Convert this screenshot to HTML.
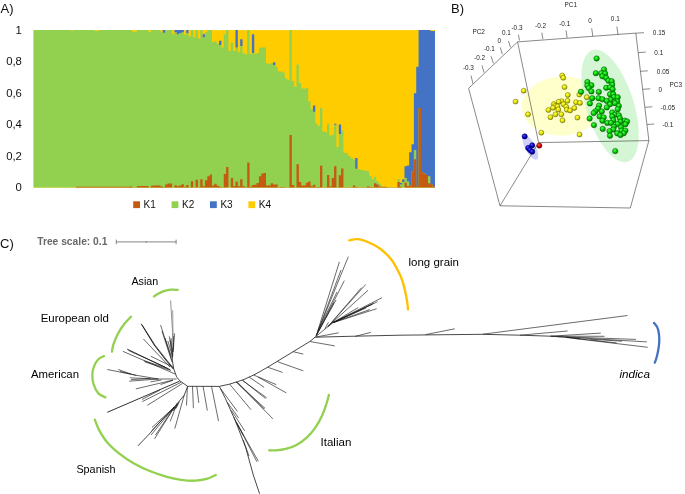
<!DOCTYPE html><html><head><meta charset="utf-8"><title>Figure</title><style>html,body{margin:0;padding:0;background:#fff}svg{display:block}text{font-family:"Liberation Sans",sans-serif}</style></head><body>
<svg width="685" height="494" viewBox="0 0 685 494">
<rect width="685" height="494" fill="#fff"/>
<g id="chart">
<rect x="33.60" y="30.10" width="401.40" height="157.50" fill="#FFCC00"/>
<path d="M33.60,187.60 L33.60,30.10 L35.95,30.10 L35.95,30.10 L38.29,30.10 L38.29,30.10 L40.64,30.10 L40.64,30.10 L42.99,30.10 L42.99,30.10 L45.34,30.10 L45.34,30.10 L47.68,30.10 L47.68,30.10 L50.03,30.10 L50.03,30.10 L52.38,30.10 L52.38,30.10 L54.73,30.10 L54.73,30.10 L57.07,30.10 L57.07,30.10 L59.42,30.10 L59.42,30.10 L61.77,30.10 L61.77,30.10 L64.12,30.10 L64.12,30.10 L66.46,30.10 L66.46,30.10 L68.81,30.10 L68.81,30.10 L71.16,30.10 L71.16,30.73 L73.51,30.73 L73.51,30.10 L75.85,30.10 L75.85,30.10 L78.20,30.10 L78.20,30.10 L80.55,30.10 L80.55,30.10 L82.89,30.10 L82.89,30.10 L85.24,30.10 L85.24,30.10 L87.59,30.10 L87.59,30.10 L89.94,30.10 L89.94,30.10 L92.28,30.10 L92.28,30.10 L94.63,30.10 L94.63,30.89 L96.98,30.89 L96.98,30.89 L99.33,30.89 L99.33,30.10 L101.67,30.10 L101.67,30.10 L104.02,30.10 L104.02,30.10 L106.37,30.10 L106.37,30.10 L108.72,30.10 L108.72,30.10 L111.06,30.10 L111.06,30.10 L113.41,30.10 L113.41,30.10 L115.76,30.10 L115.76,30.10 L118.11,30.10 L118.11,30.10 L120.45,30.10 L120.45,30.10 L122.80,30.10 L122.80,30.10 L125.15,30.10 L125.15,30.10 L127.49,30.10 L127.49,30.10 L129.84,30.10 L129.84,30.10 L132.19,30.10 L132.19,31.67 L134.54,31.67 L134.54,31.67 L136.88,31.67 L136.88,30.10 L139.23,30.10 L139.23,30.10 L141.58,30.10 L141.58,30.10 L143.93,30.10 L143.93,30.10 L146.27,30.10 L146.27,30.10 L148.62,30.10 L148.62,32.15 L150.97,32.15 L150.97,30.10 L153.32,30.10 L153.32,30.10 L155.66,30.10 L155.66,30.10 L158.01,30.10 L158.01,30.10 L160.36,30.10 L160.36,31.83 L162.71,31.83 L162.71,32.78 L165.05,32.78 L165.05,30.10 L167.40,30.10 L167.40,30.10 L169.75,30.10 L169.75,30.10 L172.09,30.10 L172.09,34.19 L174.44,34.19 L174.44,32.31 L176.79,32.31 L176.79,34.19 L179.14,34.19 L179.14,32.94 L181.48,32.94 L181.48,32.15 L183.83,32.15 L183.83,34.82 L186.18,34.82 L186.18,33.09 L188.53,33.09 L188.53,36.24 L190.87,36.24 L190.87,30.10 L193.22,30.10 L193.22,37.34 L195.57,37.34 L195.57,30.10 L197.92,30.10 L197.92,38.60 L200.26,38.60 L200.26,30.10 L202.61,30.10 L202.61,37.34 L204.96,37.34 L204.96,32.15 L207.31,32.15 L207.31,30.10 L209.65,30.10 L209.65,30.10 L212.00,30.10 L212.00,42.07 L214.35,42.07 L214.35,41.28 L216.69,41.28 L216.69,43.64 L219.04,43.64 L219.04,44.91 L221.39,44.91 L221.39,47.42 L223.74,47.42 L223.74,34.19 L226.08,34.19 L226.08,30.10 L228.43,30.10 L228.43,51.05 L230.78,51.05 L230.78,42.38 L233.13,42.38 L233.13,51.05 L235.47,51.05 L235.47,47.42 L237.82,47.42 L237.82,52.31 L240.17,52.31 L240.17,46.01 L242.52,46.01 L242.52,53.25 L244.86,53.25 L244.86,54.35 L247.21,54.35 L247.21,30.10 L249.56,30.10 L249.56,54.35 L251.91,54.35 L251.91,53.09 L254.25,53.09 L254.25,54.04 L256.60,54.04 L256.60,53.09 L258.95,53.09 L258.95,47.58 L261.29,47.58 L261.29,47.58 L263.64,47.58 L263.64,47.58 L265.99,47.58 L265.99,63.17 L268.34,63.17 L268.34,63.80 L270.68,63.80 L270.68,63.33 L273.03,63.33 L273.03,65.22 L275.38,65.22 L275.38,66.80 L277.73,66.80 L277.73,71.36 L280.07,71.36 L280.07,71.52 L282.42,71.52 L282.42,72.47 L284.77,72.47 L284.77,78.61 L287.12,78.61 L287.12,79.79 L289.46,79.79 L289.46,30.10 L291.81,30.10 L291.81,80.97 L294.16,80.97 L294.16,86.80 L296.51,86.80 L296.51,64.51 L298.85,64.51 L298.85,83.02 L301.20,83.02 L301.20,88.38 L303.55,88.38 L303.55,88.85 L305.89,88.85 L305.89,87.90 L308.24,87.90 L308.24,101.29 L310.59,101.29 L310.59,108.85 L312.94,108.85 L312.94,111.84 L315.28,111.84 L315.28,123.50 L317.63,123.50 L317.63,125.86 L319.98,125.86 L319.98,107.90 L322.33,107.90 L322.33,131.22 L324.67,131.22 L324.67,132.16 L327.02,132.16 L327.02,123.81 L329.37,123.81 L329.37,135.62 L331.72,135.62 L331.72,134.84 L334.06,134.84 L334.06,124.76 L336.41,124.76 L336.41,146.89 L338.76,146.89 L338.76,134.05 L341.11,134.05 L341.11,130.43 L343.45,130.43 L343.45,152.79 L345.80,152.79 L345.80,153.26 L348.15,153.26 L348.15,155.94 L350.49,155.94 L350.49,157.93 L352.84,157.93 L352.84,159.41 L355.19,159.41 L355.19,168.79 L357.54,168.79 L357.54,169.17 L359.88,169.17 L359.88,169.64 L362.23,169.64 L362.23,170.37 L364.58,170.37 L364.58,170.84 L366.93,170.84 L366.93,171.22 L369.27,171.22 L369.27,175.94 L371.62,175.94 L371.62,179.14 L373.97,179.14 L373.97,176.80 L376.32,176.80 L376.32,180.91 L378.66,180.91 L378.66,183.82 L381.01,183.82 L381.01,186.66 L383.36,186.66 L383.36,186.81 L385.71,186.81 L385.71,186.97 L388.05,186.97 L388.05,187.13 L390.40,187.13 L390.40,187.28 L392.75,187.28 L392.75,187.28 L395.09,187.28 L395.09,187.28 L397.44,187.28 L397.44,179.14 L399.79,179.14 L399.79,184.45 L402.14,184.45 L402.14,182.09 L404.48,182.09 L404.48,177.99 L406.83,177.99 L406.83,181.46 L409.18,181.46 L409.18,185.60 L411.53,185.60 L411.53,171.53 L413.87,171.53 L413.87,150.12 L416.22,150.12 L416.22,186.18 L418.57,186.18 L418.57,108.06 L420.92,108.06 L420.92,172.16 L423.26,172.16 L423.26,173.27 L425.61,173.27 L425.61,175.00 L427.96,175.00 L427.96,176.26 L430.31,176.26 L430.31,184.20 L432.65,184.20 L432.65,186.81 L435.00,186.81 L435.00,187.60Z" fill="#92D050"/>
<path d="M162.71,30.10 L165.05,30.10 L165.05,32.78 L162.71,32.78Z M174.44,30.10 L176.79,30.10 L176.79,30.10 L179.14,30.10 L179.14,30.10 L181.48,30.10 L181.48,30.10 L183.83,30.10 L183.83,32.15 L181.48,32.15 L181.48,32.94 L179.14,32.94 L179.14,34.19 L176.79,34.19 L176.79,32.31 L174.44,32.31Z M186.18,30.10 L188.53,30.10 L188.53,33.09 L186.18,33.09Z M202.61,34.19 L204.96,34.19 L204.96,37.34 L202.61,37.34Z M219.04,40.81 L221.39,40.81 L221.39,44.91 L219.04,44.91Z M235.47,30.10 L237.82,30.10 L237.82,47.42 L235.47,47.42Z M240.17,39.24 L242.52,39.24 L242.52,46.01 L240.17,46.01Z M251.91,34.19 L254.25,34.19 L254.25,53.09 L251.91,53.09Z M273.03,62.23 L275.38,62.23 L275.38,65.22 L273.03,65.22Z M312.94,105.38 L315.28,105.38 L315.28,111.84 L312.94,111.84Z M334.06,123.65 L336.41,123.65 L336.41,124.76 L334.06,124.76Z M338.76,124.60 L341.11,124.60 L341.11,134.05 L338.76,134.05Z M355.19,157.93 L357.54,157.93 L357.54,168.79 L355.19,168.79Z M399.79,182.72 L402.14,182.72 L402.14,179.14 L404.48,179.14 L404.48,166.23 L406.83,166.23 L406.83,165.39 L409.18,165.39 L409.18,152.16 L411.53,152.16 L411.53,144.29 L413.87,144.29 L413.87,93.26 L416.22,93.26 L416.22,66.64 L418.57,66.64 L418.57,30.10 L420.92,30.10 L420.92,30.10 L423.26,30.10 L423.26,30.10 L425.61,30.10 L425.61,30.10 L427.96,30.10 L427.96,30.10 L430.31,30.10 L430.31,30.89 L432.65,30.89 L432.65,30.89 L435.00,30.89 L435.00,186.81 L432.65,186.81 L432.65,184.20 L430.31,184.20 L430.31,176.26 L427.96,176.26 L427.96,175.00 L425.61,175.00 L425.61,173.27 L423.26,173.27 L423.26,172.16 L420.92,172.16 L420.92,108.06 L418.57,108.06 L418.57,186.18 L416.22,186.18 L416.22,150.12 L413.87,150.12 L413.87,171.53 L411.53,171.53 L411.53,185.60 L409.18,185.60 L409.18,181.46 L406.83,181.46 L406.83,177.99 L404.48,177.99 L404.48,182.09 L402.14,182.09 L402.14,184.45 L399.79,184.45Z" fill="#4472C4"/>
<path d="M33.60,187.60 L33.60,187.44 L35.95,187.44 L35.95,187.44 L38.29,187.44 L38.29,187.44 L40.64,187.44 L40.64,187.44 L42.99,187.44 L42.99,187.44 L45.34,187.44 L45.34,187.44 L47.68,187.44 L47.68,187.44 L50.03,187.44 L50.03,187.44 L52.38,187.44 L52.38,187.44 L54.73,187.44 L54.73,187.44 L57.07,187.44 L57.07,187.44 L59.42,187.44 L59.42,187.44 L61.77,187.44 L61.77,187.44 L64.12,187.44 L64.12,187.44 L66.46,187.44 L66.46,187.44 L68.81,187.44 L68.81,187.44 L71.16,187.44 L71.16,187.44 L73.51,187.44 L73.51,187.44 L75.85,187.44 L75.85,186.81 L78.20,186.81 L78.20,186.81 L80.55,186.81 L80.55,186.81 L82.89,186.81 L82.89,186.81 L85.24,186.81 L85.24,186.81 L87.59,186.81 L87.59,186.81 L89.94,186.81 L89.94,186.81 L92.28,186.81 L92.28,186.81 L94.63,186.81 L94.63,186.81 L96.98,186.81 L96.98,186.81 L99.33,186.81 L99.33,186.81 L101.67,186.81 L101.67,186.81 L104.02,186.81 L104.02,186.81 L106.37,186.81 L106.37,186.81 L108.72,186.81 L108.72,186.81 L111.06,186.81 L111.06,186.81 L113.41,186.81 L113.41,186.81 L115.76,186.81 L115.76,186.81 L118.11,186.81 L118.11,186.81 L120.45,186.81 L120.45,186.81 L122.80,186.81 L122.80,186.81 L125.15,186.81 L125.15,186.81 L127.49,186.81 L127.49,186.81 L129.84,186.81 L129.84,186.42 L132.19,186.42 L132.19,187.13 L134.54,187.13 L134.54,187.13 L136.88,187.13 L136.88,185.96 L139.23,185.96 L139.23,185.96 L141.58,185.96 L141.58,185.96 L143.93,185.96 L143.93,185.96 L146.27,185.96 L146.27,185.96 L148.62,185.96 L148.62,187.13 L150.97,187.13 L150.97,185.87 L153.32,185.87 L153.32,185.39 L155.66,185.39 L155.66,185.39 L158.01,185.39 L158.01,185.39 L160.36,185.39 L160.36,186.34 L162.71,186.34 L162.71,186.97 L165.05,186.97 L165.05,184.45 L167.40,184.45 L167.40,183.50 L169.75,183.50 L169.75,183.50 L172.09,183.50 L172.09,187.36 L174.44,187.36 L174.44,185.24 L176.79,185.24 L176.79,186.34 L179.14,186.34 L179.14,185.39 L181.48,185.39 L181.48,184.20 L183.83,184.20 L183.83,186.81 L186.18,186.81 L186.18,185.02 L188.53,185.02 L188.53,187.36 L190.87,187.36 L190.87,181.30 L193.22,181.30 L193.22,187.36 L195.57,187.36 L195.57,179.72 L197.92,179.72 L197.92,187.36 L200.26,187.36 L200.26,179.14 L202.61,179.14 L202.61,186.18 L204.96,186.18 L204.96,180.35 L207.31,180.35 L207.31,176.26 L209.65,176.26 L209.65,174.45 L212.00,174.45 L212.00,185.39 L214.35,185.39 L214.35,183.82 L216.69,183.82 L216.69,185.87 L219.04,185.87 L219.04,186.81 L221.39,186.81 L221.39,187.28 L223.74,187.28 L223.74,173.90 L226.08,173.90 L226.08,167.05 L228.43,167.05 L228.43,187.60 L230.78,187.60 L230.78,177.99 L233.13,177.99 L233.13,186.18 L235.47,186.18 L235.47,181.85 L237.82,181.85 L237.82,186.18 L240.17,186.18 L240.17,179.14 L242.52,179.14 L242.52,186.18 L244.86,186.18 L244.86,186.97 L247.21,186.97 L247.21,162.40 L249.56,162.40 L249.56,186.81 L251.91,186.81 L251.91,185.08 L254.25,185.08 L254.25,184.67 L256.60,184.67 L256.60,183.03 L258.95,183.03 L258.95,176.26 L261.29,176.26 L261.29,173.61 L263.64,173.61 L263.64,172.95 L265.99,172.95 L265.99,185.39 L268.34,185.39 L268.34,185.39 L270.68,185.39 L270.68,183.25 L273.03,183.25 L273.03,184.45 L275.38,184.45 L275.38,184.45 L277.73,184.45 L277.73,187.36 L280.07,187.36 L280.07,186.97 L282.42,186.97 L282.42,186.97 L284.77,186.97 L284.77,187.36 L287.12,187.36 L287.12,187.36 L289.46,187.36 L289.46,135.00 L291.81,135.00 L291.81,185.08 L294.16,185.08 L294.16,187.28 L296.51,187.28 L296.51,164.29 L298.85,164.29 L298.85,182.09 L301.20,182.09 L301.20,185.60 L303.55,185.60 L303.55,185.39 L305.89,185.39 L305.89,182.72 L308.24,182.72 L308.24,181.46 L310.59,181.46 L310.59,186.18 L312.94,186.18 L312.94,184.67 L315.28,184.67 L315.28,186.97 L317.63,186.97 L317.63,186.97 L319.98,186.97 L319.98,165.86 L322.33,165.86 L322.33,187.13 L324.67,187.13 L324.67,187.13 L327.02,187.13 L327.02,175.00 L329.37,175.00 L329.37,186.50 L331.72,186.50 L331.72,177.99 L334.06,177.99 L334.06,166.23 L336.41,166.23 L336.41,187.28 L338.76,187.28 L338.76,175.31 L341.11,175.31 L341.11,168.54 L343.45,168.54 L343.45,187.13 L345.80,187.13 L345.80,187.13 L348.15,187.13 L348.15,187.13 L350.49,187.13 L350.49,187.13 L352.84,187.13 L352.84,185.60 L355.19,185.60 L355.19,186.97 L357.54,186.97 L357.54,187.13 L359.88,187.13 L359.88,187.13 L362.23,187.13 L362.23,187.13 L364.58,187.13 L364.58,187.13 L366.93,187.13 L366.93,186.18 L369.27,186.18 L369.27,186.97 L371.62,186.97 L371.62,186.97 L373.97,186.97 L373.97,183.25 L376.32,183.25 L376.32,184.45 L378.66,184.45 L378.66,186.42 L381.01,186.42 L381.01,186.66 L383.36,186.66 L383.36,186.81 L385.71,186.81 L385.71,186.97 L388.05,186.97 L388.05,187.13 L390.40,187.13 L390.40,187.28 L392.75,187.28 L392.75,187.28 L395.09,187.28 L395.09,187.28 L397.44,187.28 L397.44,182.09 L399.79,182.09 L399.79,186.81 L402.14,186.81 L402.14,187.60 L404.48,187.60 L404.48,182.72 L406.83,182.72 L406.83,186.03 L409.18,186.03 L409.18,185.60 L411.53,185.60 L411.53,171.53 L413.87,171.53 L413.87,159.25 L416.22,159.25 L416.22,186.18 L418.57,186.18 L418.57,108.06 L420.92,108.06 L420.92,172.16 L423.26,172.16 L423.26,173.27 L425.61,173.27 L425.61,175.00 L427.96,175.00 L427.96,183.25 L430.31,183.25 L430.31,184.20 L432.65,184.20 L432.65,186.81 L435.00,186.81 L435.00,187.60Z" fill="#C55A11"/>
</g>
<g font-size="11.3" fill="#111" text-anchor="end">
<text x="21.9" y="33.95">1</text>
<text x="21.9" y="65.45">0,8</text>
<text x="21.9" y="96.95">0,6</text>
<text x="21.9" y="128.45">0,4</text>
<text x="21.9" y="159.95">0,2</text>
<text x="21.9" y="191.45">0</text>
</g>
<g font-size="11.3" fill="#111">
<rect x="133.2" y="201.3" width="6.8" height="6.8" fill="#C55A11"/><text x="143.6" y="208.1" textLength="12.3" lengthAdjust="spacingAndGlyphs">K1</text>
<rect x="171.6" y="201.3" width="6.8" height="6.8" fill="#92D050"/><text x="182.0" y="208.1" textLength="12.3" lengthAdjust="spacingAndGlyphs">K2</text>
<rect x="210.0" y="201.3" width="6.8" height="6.8" fill="#4472C4"/><text x="220.4" y="208.1" textLength="12.3" lengthAdjust="spacingAndGlyphs">K3</text>
<rect x="248.4" y="201.3" width="6.8" height="6.8" fill="#FFCC00"/><text x="258.8" y="208.1" textLength="12.3" lengthAdjust="spacingAndGlyphs">K4</text>
</g>
<g font-size="13" fill="#111"><text x="0.6" y="12.8">A)</text><text x="451" y="12.6">B)</text><text x="0" y="248">C)</text></g>
<defs>
<radialGradient id="gy" cx="0.4" cy="0.35" r="0.65"><stop offset="0" stop-color="#ffff66"/><stop offset="0.55" stop-color="#e6e600"/><stop offset="1" stop-color="#8f8f00"/></radialGradient>
<radialGradient id="gg" cx="0.4" cy="0.35" r="0.65"><stop offset="0" stop-color="#55ff55"/><stop offset="0.55" stop-color="#00d200"/><stop offset="1" stop-color="#006e00"/></radialGradient>
<radialGradient id="gb" cx="0.4" cy="0.35" r="0.65"><stop offset="0" stop-color="#5555ff"/><stop offset="0.55" stop-color="#0000d0"/><stop offset="1" stop-color="#00006a"/></radialGradient>
<radialGradient id="gr" cx="0.4" cy="0.35" r="0.65"><stop offset="0" stop-color="#ff6666"/><stop offset="0.55" stop-color="#e00000"/><stop offset="1" stop-color="#700000"/></radialGradient>
</defs>
<g id="pca">
<ellipse cx="562" cy="106" rx="40.5" ry="29.5" fill="#FFFFCC" transform="rotate(-3 562 106)"/>
<ellipse cx="610.1" cy="105.9" rx="23.8" ry="58.6" fill="#CCF5CC" fill-opacity="0.85" transform="rotate(-17.5 610.1 105.9)"/>
<ellipse cx="530.3" cy="147.4" rx="5.2" ry="13.6" fill="#D0D0FA" transform="rotate(-28 530.3 147.4)"/>
<line x1="517.6" y1="41.9" x2="635.8" y2="33.1" stroke="#3a3a3a" stroke-width="0.60"/>
<line x1="517.6" y1="41.9" x2="468.6" y2="88.3" stroke="#3a3a3a" stroke-width="0.60"/>
<line x1="517.6" y1="41.9" x2="538.6" y2="142.6" stroke="#3a3a3a" stroke-width="0.60"/>
<line x1="635.8" y1="33.1" x2="648.9" y2="140.6" stroke="#3a3a3a" stroke-width="0.60"/>
<line x1="538.6" y1="142.6" x2="648.9" y2="140.6" stroke="#3a3a3a" stroke-width="0.60"/>
<line x1="468.6" y1="88.3" x2="500.0" y2="205.8" stroke="#3a3a3a" stroke-width="0.60"/>
<line x1="500.0" y1="205.8" x2="630.3" y2="208.0" stroke="#3a3a3a" stroke-width="0.60"/>
<line x1="500.0" y1="205.8" x2="538.6" y2="142.6" stroke="#3a3a3a" stroke-width="0.60"/>
<line x1="630.3" y1="208.0" x2="648.9" y2="140.6" stroke="#3a3a3a" stroke-width="0.60"/>
<line x1="519.5" y1="40.5" x2="518.4" y2="34.7" stroke="#3a3a3a" stroke-width="0.60"/>
<line x1="542.9" y1="39.1" x2="541.8" y2="32.7" stroke="#3a3a3a" stroke-width="0.60"/>
<line x1="567.1" y1="37.8" x2="566.0" y2="30.4" stroke="#3a3a3a" stroke-width="0.60"/>
<line x1="592.8" y1="36.2" x2="591.7" y2="28.3" stroke="#3a3a3a" stroke-width="0.60"/>
<line x1="618.0" y1="34.9" x2="616.9" y2="26.5" stroke="#3a3a3a" stroke-width="0.60"/>
<line x1="510.5" y1="47.4" x2="508.5" y2="40.9" stroke="#3a3a3a" stroke-width="0.60"/>
<line x1="502.3" y1="54.2" x2="500.3" y2="47.4" stroke="#3a3a3a" stroke-width="0.60"/>
<line x1="493.5" y1="63.4" x2="491.0" y2="56.2" stroke="#3a3a3a" stroke-width="0.60"/>
<line x1="484.0" y1="72.6" x2="482.0" y2="65.4" stroke="#3a3a3a" stroke-width="0.60"/>
<line x1="473.0" y1="83.8" x2="471.0" y2="75.6" stroke="#3a3a3a" stroke-width="0.60"/>
<line x1="635.8" y1="33.2" x2="644.0" y2="32.7" stroke="#3a3a3a" stroke-width="0.60"/>
<line x1="638.3" y1="52.6" x2="645.8" y2="52.1" stroke="#3a3a3a" stroke-width="0.60"/>
<line x1="640.5" y1="71.3" x2="647.8" y2="70.8" stroke="#3a3a3a" stroke-width="0.60"/>
<line x1="642.8" y1="89.3" x2="650.3" y2="88.8" stroke="#3a3a3a" stroke-width="0.60"/>
<line x1="645.0" y1="107.3" x2="652.2" y2="106.8" stroke="#3a3a3a" stroke-width="0.60"/>
<line x1="647.1" y1="124.5" x2="654.2" y2="124.0" stroke="#3a3a3a" stroke-width="0.60"/>
<g font-size="6.4" fill="#222" text-anchor="middle">
<text x="570.8" y="6.6">PC1</text>
<text x="478.6" y="33.7">PC2</text>
<text x="517.0" y="29.5">-0.3</text>
<text x="540.6" y="27.8">-0.2</text>
<text x="564.7" y="25.5">-0.1</text>
<text x="590.1" y="22.8">0</text>
<text x="615.3" y="20.9">0.1</text>
<text x="506.4" y="35.3">0.1</text>
<text x="499.3" y="42.8">0</text>
<text x="489.4" y="51.1">-0.1</text>
<text x="479.6" y="60.2">-0.2</text>
<text x="468.4" y="69.9">-0.3</text>
<text x="659.1" y="35.4">0.15</text>
<text x="658.8" y="54.8">0.1</text>
<text x="663.1" y="73.8">0.05</text>
<text x="660.4" y="91.6">0</text>
<text x="667.8" y="109.9">-0.05</text>
<text x="667.9" y="126.8">-0.1</text>
<text x="675.8" y="87.0">PC3</text>
</g>
<circle cx="562.2" cy="75.5" r="2.5" fill="url(#gy)" stroke="#6b6b00" stroke-width="0.5"/>
<circle cx="563.2" cy="77.8" r="2.5" fill="url(#gy)" stroke="#6b6b00" stroke-width="0.5"/>
<circle cx="564.5" cy="87.1" r="2.5" fill="url(#gy)" stroke="#6b6b00" stroke-width="0.5"/>
<circle cx="523.7" cy="90.7" r="2.5" fill="url(#gy)" stroke="#6b6b00" stroke-width="0.5"/>
<circle cx="567.8" cy="95.0" r="2.5" fill="url(#gy)" stroke="#6b6b00" stroke-width="0.5"/>
<circle cx="579.3" cy="94.6" r="2.5" fill="url(#gy)" stroke="#6b6b00" stroke-width="0.5"/>
<circle cx="586.8" cy="97.2" r="2.5" fill="url(#gy)" stroke="#6b6b00" stroke-width="0.5"/>
<circle cx="515.5" cy="101.6" r="2.5" fill="url(#gy)" stroke="#6b6b00" stroke-width="0.5"/>
<circle cx="567.5" cy="100.8" r="2.5" fill="url(#gy)" stroke="#6b6b00" stroke-width="0.5"/>
<circle cx="561.6" cy="101.2" r="2.5" fill="url(#gy)" stroke="#6b6b00" stroke-width="0.5"/>
<circle cx="558.7" cy="101.8" r="2.5" fill="url(#gy)" stroke="#6b6b00" stroke-width="0.5"/>
<circle cx="576.0" cy="102.2" r="2.5" fill="url(#gy)" stroke="#6b6b00" stroke-width="0.5"/>
<circle cx="580.0" cy="102.9" r="2.5" fill="url(#gy)" stroke="#6b6b00" stroke-width="0.5"/>
<circle cx="553.9" cy="104.1" r="2.5" fill="url(#gy)" stroke="#6b6b00" stroke-width="0.5"/>
<circle cx="563.5" cy="104.2" r="2.5" fill="url(#gy)" stroke="#6b6b00" stroke-width="0.5"/>
<circle cx="555.0" cy="106.0" r="2.5" fill="url(#gy)" stroke="#6b6b00" stroke-width="0.5"/>
<circle cx="557.4" cy="106.4" r="2.5" fill="url(#gy)" stroke="#6b6b00" stroke-width="0.5"/>
<circle cx="566.2" cy="106.8" r="2.5" fill="url(#gy)" stroke="#6b6b00" stroke-width="0.5"/>
<circle cx="574.3" cy="108.0" r="2.5" fill="url(#gy)" stroke="#6b6b00" stroke-width="0.5"/>
<circle cx="553.0" cy="107.8" r="2.5" fill="url(#gy)" stroke="#6b6b00" stroke-width="0.5"/>
<circle cx="548.4" cy="110.0" r="2.5" fill="url(#gy)" stroke="#6b6b00" stroke-width="0.5"/>
<circle cx="558.3" cy="109.5" r="2.5" fill="url(#gy)" stroke="#6b6b00" stroke-width="0.5"/>
<circle cx="566.8" cy="109.7" r="2.5" fill="url(#gy)" stroke="#6b6b00" stroke-width="0.5"/>
<circle cx="570.1" cy="110.4" r="2.5" fill="url(#gy)" stroke="#6b6b00" stroke-width="0.5"/>
<circle cx="528.0" cy="114.3" r="2.5" fill="url(#gy)" stroke="#6b6b00" stroke-width="0.5"/>
<circle cx="555.4" cy="114.3" r="2.5" fill="url(#gy)" stroke="#6b6b00" stroke-width="0.5"/>
<circle cx="561.3" cy="114.3" r="2.5" fill="url(#gy)" stroke="#6b6b00" stroke-width="0.5"/>
<circle cx="550.4" cy="117.2" r="2.5" fill="url(#gy)" stroke="#6b6b00" stroke-width="0.5"/>
<circle cx="577.4" cy="117.6" r="2.5" fill="url(#gy)" stroke="#6b6b00" stroke-width="0.5"/>
<circle cx="562.5" cy="120.3" r="2.5" fill="url(#gy)" stroke="#6b6b00" stroke-width="0.5"/>
<circle cx="541.3" cy="132.7" r="2.5" fill="url(#gy)" stroke="#6b6b00" stroke-width="0.5"/>
<circle cx="579.5" cy="134.5" r="2.5" fill="url(#gy)" stroke="#6b6b00" stroke-width="0.5"/>
<circle cx="596.6" cy="58.5" r="2.7" fill="url(#gg)" stroke="#005a00" stroke-width="0.5"/>
<circle cx="604.0" cy="69.5" r="2.7" fill="url(#gg)" stroke="#005a00" stroke-width="0.5"/>
<circle cx="595.8" cy="73.2" r="2.7" fill="url(#gg)" stroke="#005a00" stroke-width="0.5"/>
<circle cx="601.3" cy="73.2" r="2.7" fill="url(#gg)" stroke="#005a00" stroke-width="0.5"/>
<circle cx="605.1" cy="73.5" r="2.7" fill="url(#gg)" stroke="#005a00" stroke-width="0.5"/>
<circle cx="602.4" cy="76.3" r="2.7" fill="url(#gg)" stroke="#005a00" stroke-width="0.5"/>
<circle cx="606.2" cy="77.9" r="2.7" fill="url(#gg)" stroke="#005a00" stroke-width="0.5"/>
<circle cx="608.4" cy="80.7" r="2.7" fill="url(#gg)" stroke="#005a00" stroke-width="0.5"/>
<circle cx="611.7" cy="81.2" r="2.7" fill="url(#gg)" stroke="#005a00" stroke-width="0.5"/>
<circle cx="587.4" cy="82.0" r="2.7" fill="url(#gg)" stroke="#005a00" stroke-width="0.5"/>
<circle cx="591.4" cy="85.3" r="2.7" fill="url(#gg)" stroke="#005a00" stroke-width="0.5"/>
<circle cx="587.3" cy="85.6" r="2.7" fill="url(#gg)" stroke="#005a00" stroke-width="0.5"/>
<circle cx="612.2" cy="84.8" r="2.7" fill="url(#gg)" stroke="#005a00" stroke-width="0.5"/>
<circle cx="606.2" cy="87.8" r="2.7" fill="url(#gg)" stroke="#005a00" stroke-width="0.5"/>
<circle cx="610.0" cy="87.4" r="2.7" fill="url(#gg)" stroke="#005a00" stroke-width="0.5"/>
<circle cx="588.7" cy="88.1" r="2.7" fill="url(#gg)" stroke="#005a00" stroke-width="0.5"/>
<circle cx="612.6" cy="89.2" r="2.7" fill="url(#gg)" stroke="#005a00" stroke-width="0.5"/>
<circle cx="591.4" cy="91.4" r="2.7" fill="url(#gg)" stroke="#005a00" stroke-width="0.5"/>
<circle cx="581.0" cy="91.8" r="2.7" fill="url(#gg)" stroke="#005a00" stroke-width="0.5"/>
<circle cx="598.8" cy="91.9" r="2.7" fill="url(#gg)" stroke="#005a00" stroke-width="0.5"/>
<circle cx="610.0" cy="94.3" r="2.7" fill="url(#gg)" stroke="#005a00" stroke-width="0.5"/>
<circle cx="613.3" cy="94.3" r="2.7" fill="url(#gg)" stroke="#005a00" stroke-width="0.5"/>
<circle cx="613.9" cy="97.1" r="2.7" fill="url(#gg)" stroke="#005a00" stroke-width="0.5"/>
<circle cx="617.7" cy="97.3" r="2.7" fill="url(#gg)" stroke="#005a00" stroke-width="0.5"/>
<circle cx="592.2" cy="98.2" r="2.7" fill="url(#gg)" stroke="#005a00" stroke-width="0.5"/>
<circle cx="598.5" cy="98.2" r="2.7" fill="url(#gg)" stroke="#005a00" stroke-width="0.5"/>
<circle cx="602.4" cy="99.3" r="2.7" fill="url(#gg)" stroke="#005a00" stroke-width="0.5"/>
<circle cx="610.6" cy="99.8" r="2.7" fill="url(#gg)" stroke="#005a00" stroke-width="0.5"/>
<circle cx="606.8" cy="100.9" r="2.7" fill="url(#gg)" stroke="#005a00" stroke-width="0.5"/>
<circle cx="617.2" cy="101.5" r="2.7" fill="url(#gg)" stroke="#005a00" stroke-width="0.5"/>
<circle cx="589.9" cy="103.4" r="2.7" fill="url(#gg)" stroke="#005a00" stroke-width="0.5"/>
<circle cx="615.0" cy="103.2" r="2.7" fill="url(#gg)" stroke="#005a00" stroke-width="0.5"/>
<circle cx="610.0" cy="104.3" r="2.7" fill="url(#gg)" stroke="#005a00" stroke-width="0.5"/>
<circle cx="599.1" cy="105.6" r="2.7" fill="url(#gg)" stroke="#005a00" stroke-width="0.5"/>
<circle cx="618.8" cy="105.9" r="2.7" fill="url(#gg)" stroke="#005a00" stroke-width="0.5"/>
<circle cx="606.8" cy="107.4" r="2.7" fill="url(#gg)" stroke="#005a00" stroke-width="0.5"/>
<circle cx="598.0" cy="108.7" r="2.7" fill="url(#gg)" stroke="#005a00" stroke-width="0.5"/>
<circle cx="617.7" cy="109.2" r="2.7" fill="url(#gg)" stroke="#005a00" stroke-width="0.5"/>
<circle cx="595.3" cy="111.4" r="2.7" fill="url(#gg)" stroke="#005a00" stroke-width="0.5"/>
<circle cx="601.8" cy="111.4" r="2.7" fill="url(#gg)" stroke="#005a00" stroke-width="0.5"/>
<circle cx="593.6" cy="113.1" r="2.7" fill="url(#gg)" stroke="#005a00" stroke-width="0.5"/>
<circle cx="612.2" cy="112.5" r="2.7" fill="url(#gg)" stroke="#005a00" stroke-width="0.5"/>
<circle cx="615.0" cy="114.7" r="2.7" fill="url(#gg)" stroke="#005a00" stroke-width="0.5"/>
<circle cx="618.8" cy="115.3" r="2.7" fill="url(#gg)" stroke="#005a00" stroke-width="0.5"/>
<circle cx="599.6" cy="116.4" r="2.7" fill="url(#gg)" stroke="#005a00" stroke-width="0.5"/>
<circle cx="612.2" cy="116.4" r="2.7" fill="url(#gg)" stroke="#005a00" stroke-width="0.5"/>
<circle cx="603.7" cy="117.4" r="2.7" fill="url(#gg)" stroke="#005a00" stroke-width="0.5"/>
<circle cx="619.9" cy="118.2" r="2.7" fill="url(#gg)" stroke="#005a00" stroke-width="0.5"/>
<circle cx="589.6" cy="118.5" r="2.7" fill="url(#gg)" stroke="#005a00" stroke-width="0.5"/>
<circle cx="613.3" cy="120.2" r="2.7" fill="url(#gg)" stroke="#005a00" stroke-width="0.5"/>
<circle cx="602.4" cy="120.7" r="2.7" fill="url(#gg)" stroke="#005a00" stroke-width="0.5"/>
<circle cx="624.8" cy="120.7" r="2.7" fill="url(#gg)" stroke="#005a00" stroke-width="0.5"/>
<circle cx="627.0" cy="121.5" r="2.7" fill="url(#gg)" stroke="#005a00" stroke-width="0.5"/>
<circle cx="607.3" cy="122.9" r="2.7" fill="url(#gg)" stroke="#005a00" stroke-width="0.5"/>
<circle cx="611.1" cy="122.9" r="2.7" fill="url(#gg)" stroke="#005a00" stroke-width="0.5"/>
<circle cx="620.4" cy="121.8" r="2.7" fill="url(#gg)" stroke="#005a00" stroke-width="0.5"/>
<circle cx="617.7" cy="124.0" r="2.7" fill="url(#gg)" stroke="#005a00" stroke-width="0.5"/>
<circle cx="625.4" cy="124.3" r="2.7" fill="url(#gg)" stroke="#005a00" stroke-width="0.5"/>
<circle cx="593.9" cy="125.1" r="2.7" fill="url(#gg)" stroke="#005a00" stroke-width="0.5"/>
<circle cx="613.9" cy="126.8" r="2.7" fill="url(#gg)" stroke="#005a00" stroke-width="0.5"/>
<circle cx="621.0" cy="127.3" r="2.7" fill="url(#gg)" stroke="#005a00" stroke-width="0.5"/>
<circle cx="602.7" cy="128.9" r="2.7" fill="url(#gg)" stroke="#005a00" stroke-width="0.5"/>
<circle cx="613.3" cy="129.5" r="2.7" fill="url(#gg)" stroke="#005a00" stroke-width="0.5"/>
<circle cx="609.5" cy="131.1" r="2.7" fill="url(#gg)" stroke="#005a00" stroke-width="0.5"/>
<circle cx="621.5" cy="130.6" r="2.7" fill="url(#gg)" stroke="#005a00" stroke-width="0.5"/>
<circle cx="625.4" cy="130.6" r="2.7" fill="url(#gg)" stroke="#005a00" stroke-width="0.5"/>
<circle cx="617.2" cy="133.3" r="2.7" fill="url(#gg)" stroke="#005a00" stroke-width="0.5"/>
<circle cx="623.7" cy="133.3" r="2.7" fill="url(#gg)" stroke="#005a00" stroke-width="0.5"/>
<circle cx="620.4" cy="135.0" r="2.7" fill="url(#gg)" stroke="#005a00" stroke-width="0.5"/>
<circle cx="610.0" cy="135.7" r="2.7" fill="url(#gg)" stroke="#005a00" stroke-width="0.5"/>
<circle cx="615.2" cy="151.1" r="2.7" fill="url(#gg)" stroke="#005a00" stroke-width="0.5"/>
<circle cx="524.7" cy="136.4" r="2.6" fill="url(#gb)" stroke="#000050" stroke-width="0.5"/>
<circle cx="532.2" cy="145.3" r="2.6" fill="url(#gb)" stroke="#000050" stroke-width="0.5"/>
<circle cx="528.2" cy="147.9" r="2.6" fill="url(#gb)" stroke="#000050" stroke-width="0.5"/>
<circle cx="530.0" cy="150.0" r="2.6" fill="url(#gb)" stroke="#000050" stroke-width="0.5"/>
<circle cx="532.2" cy="151.7" r="2.6" fill="url(#gb)" stroke="#000050" stroke-width="0.5"/>
<circle cx="539.3" cy="145.6" r="2.6" fill="url(#gr)" stroke="#600000" stroke-width="0.5"/>
</g>
<g id="tree" stroke-linecap="butt" fill="none">
<line x1="187.6" y1="386.3" x2="219.4" y2="386.4" stroke="#1a1a1a" stroke-width="0.80"/>
<line x1="219.4" y1="386.4" x2="229.6" y2="384.1" stroke="#1a1a1a" stroke-width="0.80"/>
<line x1="229.6" y1="384.1" x2="237.8" y2="381.6" stroke="#1a1a1a" stroke-width="0.80"/>
<line x1="237.8" y1="381.6" x2="245.0" y2="379.0" stroke="#1a1a1a" stroke-width="0.80"/>
<line x1="245.0" y1="379.0" x2="253.6" y2="375.0" stroke="#1a1a1a" stroke-width="0.80"/>
<line x1="253.6" y1="375.0" x2="260.0" y2="371.6" stroke="#1a1a1a" stroke-width="0.80"/>
<line x1="260.0" y1="371.6" x2="267.6" y2="367.2" stroke="#1a1a1a" stroke-width="0.80"/>
<line x1="267.6" y1="367.2" x2="277.2" y2="361.4" stroke="#1a1a1a" stroke-width="0.80"/>
<line x1="277.2" y1="361.4" x2="293.1" y2="351.7" stroke="#1a1a1a" stroke-width="0.80"/>
<line x1="293.1" y1="351.7" x2="309.8" y2="341.5" stroke="#1a1a1a" stroke-width="0.80"/>
<line x1="309.8" y1="341.5" x2="315.0" y2="337.2" stroke="#1a1a1a" stroke-width="0.80"/>
<line x1="315.0" y1="337.2" x2="355.0" y2="336.2" stroke="#1a1a1a" stroke-width="0.80"/>
<line x1="355.0" y1="336.2" x2="400.0" y2="335.2" stroke="#1a1a1a" stroke-width="0.80"/>
<line x1="400.0" y1="335.2" x2="482.8" y2="334.3" stroke="#1a1a1a" stroke-width="0.80"/>
<line x1="482.8" y1="334.3" x2="520.0" y2="335.2" stroke="#1a1a1a" stroke-width="0.80"/>
<line x1="520.0" y1="335.2" x2="550.5" y2="336.2" stroke="#1a1a1a" stroke-width="0.80"/>
<line x1="550.5" y1="336.2" x2="566.3" y2="337.3" stroke="#1a1a1a" stroke-width="0.80"/>
<line x1="566.3" y1="337.3" x2="580.0" y2="338.6" stroke="#1a1a1a" stroke-width="0.80"/>
<line x1="316.0" y1="337.0" x2="338.7" y2="332.8" stroke="#1a1a1a" stroke-width="0.65"/>
<line x1="355.3" y1="336.3" x2="370.8" y2="332.4" stroke="#1a1a1a" stroke-width="0.65"/>
<line x1="425.5" y1="334.6" x2="454.8" y2="328.8" stroke="#1a1a1a" stroke-width="0.65"/>
<line x1="482.8" y1="334.2" x2="627.6" y2="315.5" stroke="#1a1a1a" stroke-width="0.65"/>
<line x1="520.0" y1="335.2" x2="567.6" y2="331.0" stroke="#1a1a1a" stroke-width="0.65"/>
<line x1="550.5" y1="336.2" x2="600.8" y2="333.1" stroke="#1a1a1a" stroke-width="0.65"/>
<line x1="550.5" y1="336.2" x2="604.5" y2="336.3" stroke="#1a1a1a" stroke-width="0.65"/>
<line x1="557.5" y1="336.6" x2="636.0" y2="339.4" stroke="#1a1a1a" stroke-width="0.65"/>
<line x1="566.3" y1="337.2" x2="646.9" y2="341.9" stroke="#1a1a1a" stroke-width="0.65"/>
<line x1="566.3" y1="337.5" x2="647.7" y2="347.3" stroke="#1a1a1a" stroke-width="0.65"/>
<line x1="575.0" y1="338.4" x2="616.6" y2="342.9" stroke="#1a1a1a" stroke-width="0.65"/>
<line x1="590.0" y1="339.2" x2="622.0" y2="341.2" stroke="#1a1a1a" stroke-width="0.65"/>
<line x1="309.8" y1="341.5" x2="334.8" y2="345.9" stroke="#1a1a1a" stroke-width="0.65"/>
<line x1="293.1" y1="351.7" x2="303.3" y2="354.1" stroke="#1a1a1a" stroke-width="0.65"/>
<line x1="280.0" y1="362.6" x2="303.3" y2="370.8" stroke="#1a1a1a" stroke-width="0.65"/>
<line x1="277.2" y1="361.4" x2="280.0" y2="362.6" stroke="#1a1a1a" stroke-width="0.65"/>
<line x1="267.6" y1="367.2" x2="282.5" y2="372.4" stroke="#1a1a1a" stroke-width="0.65"/>
<line x1="253.6" y1="375.0" x2="276.4" y2="384.7" stroke="#1a1a1a" stroke-width="0.65"/>
<line x1="258.0" y1="377.0" x2="286.3" y2="392.9" stroke="#1a1a1a" stroke-width="0.65"/>
<line x1="249.2" y1="377.1" x2="264.1" y2="387.3" stroke="#1a1a1a" stroke-width="0.65"/>
<line x1="242.2" y1="380.3" x2="266.7" y2="397.8" stroke="#1a1a1a" stroke-width="0.65"/>
<line x1="243.0" y1="380.5" x2="265.5" y2="398.5" stroke="#1a1a1a" stroke-width="0.65"/>
<line x1="236.1" y1="382.0" x2="265.0" y2="408.3" stroke="#1a1a1a" stroke-width="0.65"/>
<line x1="236.5" y1="382.0" x2="272.9" y2="418.8" stroke="#1a1a1a" stroke-width="0.65"/>
<line x1="237.0" y1="381.8" x2="264.0" y2="408.8" stroke="#1a1a1a" stroke-width="0.65"/>
<line x1="229.6" y1="384.1" x2="251.0" y2="409.7" stroke="#1a1a1a" stroke-width="0.65"/>
<line x1="187.4" y1="386.4" x2="186.5" y2="405.5" stroke="#1a1a1a" stroke-width="0.65"/>
<line x1="192.5" y1="386.4" x2="193.4" y2="408.2" stroke="#1a1a1a" stroke-width="0.65"/>
<line x1="196.8" y1="386.4" x2="198.8" y2="402.8" stroke="#1a1a1a" stroke-width="0.65"/>
<line x1="203.1" y1="386.4" x2="207.3" y2="410.6" stroke="#1a1a1a" stroke-width="0.65"/>
<line x1="211.5" y1="386.4" x2="218.5" y2="421.0" stroke="#1a1a1a" stroke-width="0.65"/>
<line x1="219.4" y1="386.5" x2="225.3" y2="398.3" stroke="#1a1a1a" stroke-width="0.80"/>
<line x1="225.3" y1="398.3" x2="233.5" y2="416.7" stroke="#1a1a1a" stroke-width="0.80"/>
<line x1="233.5" y1="416.7" x2="237.0" y2="425.0" stroke="#1a1a1a" stroke-width="0.80"/>
<line x1="237.0" y1="425.0" x2="245.7" y2="447.5" stroke="#1a1a1a" stroke-width="0.80"/>
<line x1="245.7" y1="447.5" x2="253.3" y2="475.0" stroke="#1a1a1a" stroke-width="0.80"/>
<line x1="253.3" y1="475.0" x2="259.6" y2="493.8" stroke="#1a1a1a" stroke-width="0.80"/>
<line x1="220.5" y1="388.5" x2="237.4" y2="411.4" stroke="#1a1a1a" stroke-width="0.65"/>
<line x1="227.4" y1="402.4" x2="238.6" y2="417.9" stroke="#1a1a1a" stroke-width="0.65"/>
<line x1="231.5" y1="410.5" x2="244.7" y2="430.8" stroke="#1a1a1a" stroke-width="0.65"/>
<line x1="233.8" y1="417.2" x2="243.4" y2="435.5" stroke="#1a1a1a" stroke-width="0.65"/>
<line x1="236.0" y1="422.0" x2="258.4" y2="461.3" stroke="#1a1a1a" stroke-width="0.65"/>
<line x1="237.2" y1="423.5" x2="256.9" y2="461.8" stroke="#1a1a1a" stroke-width="0.65"/>
<line x1="243.2" y1="440.0" x2="249.0" y2="456.0" stroke="#1a1a1a" stroke-width="0.65"/>
<line x1="315.0" y1="337.2" x2="332.9" y2="322.7" stroke="#1a1a1a" stroke-width="0.65"/>
<line x1="316.3" y1="335.5" x2="348.3" y2="256.7" stroke="#1a1a1a" stroke-width="0.65"/>
<line x1="316.3" y1="335.5" x2="339.4" y2="261.9" stroke="#1a1a1a" stroke-width="0.65"/>
<line x1="316.3" y1="335.5" x2="344.3" y2="280.7" stroke="#1a1a1a" stroke-width="0.65"/>
<line x1="316.3" y1="335.5" x2="333.8" y2="302.6" stroke="#1a1a1a" stroke-width="0.65"/>
<line x1="316.3" y1="335.5" x2="336.0" y2="300.0" stroke="#1a1a1a" stroke-width="0.65"/>
<line x1="318.0" y1="331.0" x2="341.0" y2="270.0" stroke="#1a1a1a" stroke-width="0.65"/>
<line x1="318.5" y1="330.0" x2="337.0" y2="292.0" stroke="#1a1a1a" stroke-width="0.65"/>
<line x1="328.0" y1="326.5" x2="365.7" y2="284.5" stroke="#1a1a1a" stroke-width="0.65"/>
<line x1="328.0" y1="326.5" x2="368.0" y2="290.3" stroke="#1a1a1a" stroke-width="0.65"/>
<line x1="328.0" y1="326.5" x2="361.5" y2="287.7" stroke="#1a1a1a" stroke-width="0.65"/>
<line x1="332.9" y1="322.7" x2="382.0" y2="297.7" stroke="#1a1a1a" stroke-width="0.65"/>
<line x1="332.9" y1="322.7" x2="377.6" y2="301.7" stroke="#1a1a1a" stroke-width="0.65"/>
<line x1="332.9" y1="322.7" x2="376.7" y2="308.7" stroke="#1a1a1a" stroke-width="0.65"/>
<line x1="332.9" y1="322.7" x2="372.3" y2="304.3" stroke="#1a1a1a" stroke-width="0.65"/>
<line x1="332.9" y1="322.7" x2="369.7" y2="309.6" stroke="#1a1a1a" stroke-width="0.65"/>
<line x1="332.9" y1="322.7" x2="358.3" y2="307.5" stroke="#1a1a1a" stroke-width="0.65"/>
<line x1="332.9" y1="322.7" x2="374.0" y2="303.0" stroke="#1a1a1a" stroke-width="0.65"/>
<line x1="332.9" y1="322.7" x2="366.0" y2="308.0" stroke="#1a1a1a" stroke-width="0.65"/>
<line x1="325.0" y1="328.6" x2="328.5" y2="322.2" stroke="#1a1a1a" stroke-width="0.65"/>
<line x1="187.6" y1="386.3" x2="179.6" y2="380.6" stroke="#1a1a1a" stroke-width="0.80"/>
<line x1="179.6" y1="380.6" x2="176.6" y2="376.8" stroke="#1a1a1a" stroke-width="0.80"/>
<line x1="176.6" y1="376.8" x2="173.7" y2="368.8" stroke="#1a1a1a" stroke-width="0.80"/>
<line x1="173.7" y1="368.8" x2="172.3" y2="360.0" stroke="#1a1a1a" stroke-width="0.80"/>
<line x1="172.3" y1="360.0" x2="173.2" y2="347.0" stroke="#1a1a1a" stroke-width="0.65"/>
<line x1="173.2" y1="347.0" x2="172.7" y2="333.8" stroke="#1a1a1a" stroke-width="0.65"/>
<line x1="172.7" y1="333.8" x2="170.6" y2="300.5" stroke="#777" stroke-width="0.80"/>
<line x1="173.0" y1="335.0" x2="172.7" y2="310.1" stroke="#888" stroke-width="0.80"/>
<line x1="173.2" y1="352.0" x2="174.5" y2="333.4" stroke="#1a1a1a" stroke-width="0.65"/>
<line x1="172.6" y1="352.0" x2="169.2" y2="336.4" stroke="#1a1a1a" stroke-width="0.65"/>
<line x1="172.8" y1="356.0" x2="171.0" y2="338.0" stroke="#1a1a1a" stroke-width="0.65"/>
<line x1="173.0" y1="350.0" x2="173.8" y2="336.0" stroke="#1a1a1a" stroke-width="0.65"/>
<line x1="172.4" y1="358.0" x2="170.0" y2="340.0" stroke="#1a1a1a" stroke-width="0.65"/>
<line x1="172.2" y1="355.0" x2="167.8" y2="341.0" stroke="#1a1a1a" stroke-width="0.65"/>
<line x1="171.8" y1="360.0" x2="160.6" y2="325.0" stroke="#1a1a1a" stroke-width="0.65"/>
<line x1="172.0" y1="362.0" x2="162.0" y2="331.0" stroke="#1a1a1a" stroke-width="0.65"/>
<line x1="171.5" y1="357.0" x2="165.0" y2="338.0" stroke="#1a1a1a" stroke-width="0.65"/>
<line x1="141.2" y1="323.8" x2="154.2" y2="345.0" stroke="#1a1a1a" stroke-width="0.95"/>
<line x1="154.2" y1="345.0" x2="165.0" y2="359.0" stroke="#1a1a1a" stroke-width="0.95"/>
<line x1="165.0" y1="359.0" x2="173.3" y2="369.0" stroke="#1a1a1a" stroke-width="0.95"/>
<line x1="142.2" y1="325.0" x2="155.0" y2="345.2" stroke="#1a1a1a" stroke-width="0.70"/>
<line x1="155.0" y1="345.2" x2="173.6" y2="368.6" stroke="#1a1a1a" stroke-width="0.70"/>
<line x1="170.0" y1="367.0" x2="143.4" y2="339.0" stroke="#1a1a1a" stroke-width="0.65"/>
<line x1="172.8" y1="367.0" x2="150.8" y2="356.2" stroke="#1a1a1a" stroke-width="0.65"/>
<line x1="170.1" y1="369.7" x2="127.2" y2="349.2" stroke="#1a1a1a" stroke-width="0.90"/>
<line x1="175.3" y1="374.1" x2="122.8" y2="351.3" stroke="#1a1a1a" stroke-width="0.65"/>
<line x1="171.0" y1="370.5" x2="144.7" y2="361.8" stroke="#1a1a1a" stroke-width="0.65"/>
<line x1="168.0" y1="368.5" x2="143.8" y2="360.7" stroke="#1a1a1a" stroke-width="0.65"/>
<line x1="165.0" y1="367.0" x2="128.5" y2="350.5" stroke="#1a1a1a" stroke-width="0.65"/>
<line x1="176.6" y1="379.0" x2="158.4" y2="379.0" stroke="#1a1a1a" stroke-width="0.65"/>
<line x1="158.4" y1="379.0" x2="136.5" y2="375.3" stroke="#1a1a1a" stroke-width="0.65"/>
<line x1="136.5" y1="375.3" x2="107.3" y2="369.5" stroke="#1a1a1a" stroke-width="0.65"/>
<line x1="131.0" y1="374.0" x2="118.2" y2="369.5" stroke="#1a1a1a" stroke-width="0.65"/>
<line x1="136.5" y1="375.5" x2="120.0" y2="371.5" stroke="#1a1a1a" stroke-width="0.65"/>
<line x1="158.4" y1="379.0" x2="129.9" y2="377.8" stroke="#1a1a1a" stroke-width="0.65"/>
<line x1="158.4" y1="379.0" x2="129.2" y2="381.2" stroke="#1a1a1a" stroke-width="0.65"/>
<line x1="150.0" y1="378.6" x2="131.0" y2="379.6" stroke="#1a1a1a" stroke-width="0.65"/>
<line x1="173.0" y1="380.1" x2="135.8" y2="388.9" stroke="#1a1a1a" stroke-width="0.65"/>
<line x1="161.5" y1="380.0" x2="150.4" y2="381.9" stroke="#1a1a1a" stroke-width="0.65"/>
<line x1="173.0" y1="380.3" x2="160.6" y2="384.5" stroke="#1a1a1a" stroke-width="0.65"/>
<line x1="179.6" y1="381.2" x2="107.3" y2="412.3" stroke="#1a1a1a" stroke-width="0.90"/>
<line x1="181.0" y1="382.3" x2="142.3" y2="401.6" stroke="#1a1a1a" stroke-width="0.65"/>
<line x1="182.5" y1="383.4" x2="147.4" y2="405.3" stroke="#1a1a1a" stroke-width="0.65"/>
<line x1="160.0" y1="390.0" x2="142.0" y2="399.5" stroke="#1a1a1a" stroke-width="0.65"/>
<line x1="187.7" y1="386.5" x2="184.2" y2="395.2" stroke="#1a1a1a" stroke-width="0.80"/>
<line x1="184.2" y1="395.2" x2="173.9" y2="407.5" stroke="#1a1a1a" stroke-width="0.80"/>
<line x1="173.9" y1="407.5" x2="163.7" y2="417.7" stroke="#1a1a1a" stroke-width="0.80"/>
<line x1="163.7" y1="417.7" x2="148.4" y2="435.0" stroke="#1a1a1a" stroke-width="0.80"/>
<line x1="148.4" y1="435.0" x2="137.9" y2="445.9" stroke="#1a1a1a" stroke-width="0.80"/>
<line x1="174.5" y1="407.0" x2="152.0" y2="427.4" stroke="#1a1a1a" stroke-width="0.65"/>
<line x1="174.5" y1="407.0" x2="151.0" y2="435.0" stroke="#1a1a1a" stroke-width="0.65"/>
<line x1="174.5" y1="407.0" x2="154.5" y2="438.9" stroke="#1a1a1a" stroke-width="0.65"/>
<line x1="174.5" y1="407.0" x2="151.9" y2="430.5" stroke="#1a1a1a" stroke-width="0.65"/>
<line x1="174.5" y1="407.0" x2="155.5" y2="435.0" stroke="#1a1a1a" stroke-width="0.65"/>
<line x1="177.0" y1="403.5" x2="170.2" y2="421.4" stroke="#1a1a1a" stroke-width="0.65"/>
<line x1="184.2" y1="395.2" x2="174.8" y2="428.6" stroke="#1a1a1a" stroke-width="0.65"/>
<line x1="178.5" y1="402.5" x2="174.5" y2="409.5" stroke="#1a1a1a" stroke-width="0.65"/>
<line x1="177.5" y1="404.0" x2="173.0" y2="411.0" stroke="#1a1a1a" stroke-width="0.65"/>
<line x1="179.5" y1="401.5" x2="176.0" y2="408.5" stroke="#1a1a1a" stroke-width="0.65"/>
<path d="M153.9,296.4 C154.7,295.9 156.8,294.5 158.5,293.6 C160.2,292.7 161.7,291.9 163.8,291.2 C165.9,290.5 168.8,289.8 171.1,289.6 C173.4,289.4 176.6,289.8 177.7,289.9" stroke="#92D050" stroke-width="2.3" stroke-linecap="round"/>
<path d="M131.0,316.8 C129.9,318.0 126.6,320.9 124.4,323.8 C122.2,326.7 119.6,330.6 117.8,334.0 C116.0,337.4 114.5,341.3 113.5,344.2 C112.5,347.1 112.2,350.4 112.0,351.6" stroke="#92D050" stroke-width="2.3" stroke-linecap="round"/>
<path d="M104.0,356.1 C103.1,356.6 100.1,357.6 98.4,359.3 C96.7,361.0 95.0,363.7 94.0,366.3 C93.0,368.9 92.3,371.9 92.3,375.0 C92.2,378.1 92.7,381.6 93.7,384.7 C94.7,387.8 96.5,391.3 98.4,393.4 C100.4,395.5 104.2,396.6 105.4,397.3" stroke="#92D050" stroke-width="2.3" stroke-linecap="round"/>
<path d="M94.8,419.6 C95.5,421.4 97.2,426.5 99.3,430.4 C101.4,434.2 104.1,438.8 107.5,442.7 C110.9,446.6 115.3,450.4 119.7,453.9 C124.1,457.4 128.9,460.6 134.0,463.5 C139.1,466.4 144.9,469.1 150.4,471.3 C155.9,473.5 161.7,475.4 166.8,476.8 C171.9,478.2 176.3,479.2 181.1,479.9 C185.9,480.5 191.0,480.9 195.4,480.7 C199.8,480.5 204.2,479.6 207.6,478.7 C211.0,477.8 214.4,475.6 215.8,475.0" stroke="#92D050" stroke-width="2.3" stroke-linecap="round"/>
<path d="M328.9,394.9 C328.5,396.4 327.5,400.5 326.4,404.0 C325.2,407.5 323.8,411.8 322.0,415.7 C320.2,419.6 318.1,423.6 315.5,427.3 C312.9,431.0 309.9,434.7 306.7,437.6 C303.5,440.5 300.1,443.0 296.5,444.9 C292.9,446.8 288.4,448.3 284.8,449.2 C281.2,450.1 277.2,450.2 274.6,450.4 C272.0,450.6 270.0,450.3 269.1,450.3" stroke="#92D050" stroke-width="2.3" stroke-linecap="round"/>
<path d="M349.2,240.3 C350.4,240.1 354.0,239.2 356.4,239.2 C358.8,239.2 361.1,239.6 363.5,240.3 C365.9,241.0 368.1,242.1 370.5,243.2 C372.9,244.3 375.2,245.5 377.6,247.0 C380.0,248.5 382.2,250.1 384.6,252.3 C387.0,254.5 389.5,257.1 391.7,260.0 C393.9,262.9 395.8,266.6 397.6,270.0 C399.4,273.4 401.0,276.8 402.3,280.5 C403.6,284.2 404.5,288.4 405.3,292.0 C406.1,295.6 406.8,299.1 407.2,302.0 C407.6,304.9 407.9,308.2 408.0,309.5" stroke="#FFC000" stroke-width="2.3" stroke-linecap="round"/>
<path d="M654.0,323.0 C654.5,323.7 656.5,325.6 657.3,327.4 C658.1,329.2 658.6,331.3 658.9,333.6 C659.2,335.9 659.4,338.3 659.3,341.0 C659.2,343.7 658.8,346.9 658.3,349.7 C657.8,352.5 657.1,355.6 656.5,357.8 C655.9,360.0 655.1,361.9 654.8,362.7" stroke="#4472C4" stroke-width="2.3" stroke-linecap="round"/>
</g>
<text x="37.2" y="244.9" font-size="10.2" font-weight="bold" fill="#686868" textLength="70.2" lengthAdjust="spacingAndGlyphs">Tree scale: 0.1</text>
<path d="M116.3,241.9H176.1M116.3,239.6V244.2M176.1,239.6V244.2M146.2,241.2V242.8" stroke="#777" stroke-width="0.9" fill="none"/>
<g font-size="11.2" fill="#000">
<text x="131.4" y="284.6" textLength="26.8" lengthAdjust="spacingAndGlyphs">Asian</text>
<text x="40.7" y="321.9" textLength="68.2" lengthAdjust="spacingAndGlyphs">European old</text>
<text x="31.0" y="378.2" textLength="48.0" lengthAdjust="spacingAndGlyphs">American</text>
<text x="76.4" y="473.0" textLength="39.1" lengthAdjust="spacingAndGlyphs">Spanish</text>
<text x="320.5" y="445.6" textLength="30.8" lengthAdjust="spacingAndGlyphs">Italian</text>
<text x="408.5" y="266.0" textLength="50.5" lengthAdjust="spacingAndGlyphs">long grain</text>
<text x="619.4" y="377.9" font-style="italic" textLength="30.6" lengthAdjust="spacingAndGlyphs">indica</text>
</g>
</svg></body></html>
